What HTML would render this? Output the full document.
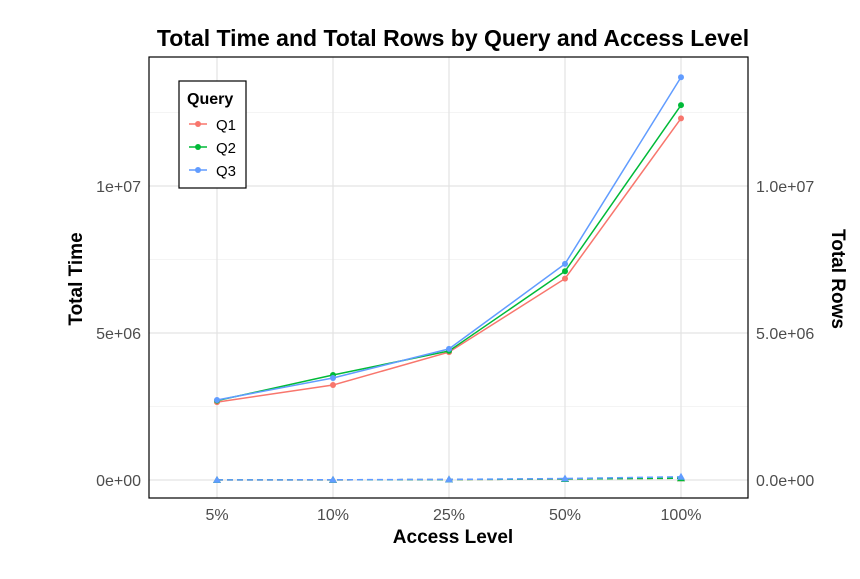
<!DOCTYPE html>
<html><head><meta charset="utf-8"><style>
body{margin:0;background:#fff;}
svg text{font-family:"Liberation Sans",Arial,sans-serif;}
</style></head><body>
<svg width="860" height="574" xmlns="http://www.w3.org/2000/svg" id="chart">
<text x="453" y="46" text-anchor="middle" font-size="23" font-weight="bold">Total Time and Total Rows by Query and Access Level</text>
<g id="grid"></g>
<g id="series"></g>
<rect x="149" y="57" width="599" height="441" fill="none" stroke="#000" stroke-width="1.2"/>
<g id="axes"></g>
<text x="453" y="543" text-anchor="middle" font-size="19" font-weight="bold">Access Level</text>
<text transform="translate(82,279) rotate(-90)" text-anchor="middle" font-size="19" font-weight="bold">Total Time</text>
<text transform="translate(832,279) rotate(90)" text-anchor="middle" font-size="19" font-weight="bold">Total Rows</text>
<g>
<rect x="179" y="81" width="67" height="107" fill="#fff" stroke="#000" stroke-width="1.2"/>
<text x="187" y="104" font-size="16" font-weight="bold">Query</text>
<g id="legend-items"></g>
</g>
</svg>
<script>
const categories=["5%","10%","25%","50%","100%"];
const seriesNames=["Q1","Q2","Q3"];
const colors=["#F8766D","#00BA38","#619CFF"];
const timeQ1=[2650000,3230000,4350000,6850000,12300000];
const timeQ2=[2700000,3570000,4390000,7100000,12750000];
const timeQ3=[2720000,3470000,4460000,7350000,13700000];
const rowsQ1=[2000,5000,15000,35000,60000];
const rowsQ2=[2000,5000,15000,35000,60000];
const rowsQ3=[3000,8000,20000,50000,110000];
const yTicks=[0,5000000,10000000];
const yTickLabels=["0e+00","5e+06","1e+07"];
const y2TickLabels=["0.0e+00","5.0e+06","1.0e+07"];
const yMinor=[2500000,7500000,12500000];
const NS="http://www.w3.org/2000/svg";
const X=i=>217+i*116;
const Y=v=>480-v/5000000*147;
function mk(tag,attrs,parent){const e=document.createElementNS(NS,tag);for(const k in attrs)e.setAttribute(k,attrs[k]);parent.appendChild(e);return e;}
const grid=document.getElementById('grid'),series=document.getElementById('series'),axes=document.getElementById('axes');
yMinor.forEach(v=>{const l=mk('line',{x1:149,x2:748,y1:Y(v),y2:Y(v),stroke:'#f0f0f0','stroke-width':0.8},grid);

});
yTicks.forEach((v,i)=>{const l=mk('line',{x1:149,x2:748,y1:Y(v),y2:Y(v),stroke:'#e3e3e3','stroke-width':1.2},grid);


const t=mk('text',{x:141,y:Y(v)+6,'text-anchor':'end','font-size':16,fill:'#4d4d4d'},axes);t.textContent=yTickLabels[i];


const t2=mk('text',{x:756,y:Y(v)+6,'font-size':16,fill:'#4d4d4d'},axes);t2.textContent=y2TickLabels[i];

});
categories.forEach((c,i)=>{const l=mk('line',{x1:X(i),x2:X(i),y1:57,y2:498,stroke:'#e3e3e3','stroke-width':1.2},grid);


const t=mk('text',{x:X(i),y:520,'text-anchor':'middle','font-size':16,fill:'#4d4d4d'},axes);t.textContent=c;

});
const times=[timeQ1,timeQ2,timeQ3],rows=[rowsQ1,rowsQ2,rowsQ3];
rows.forEach((arr,s)=>{const p=mk('polyline',{points:arr.map((v,i)=>X(i)+','+Y(v)).join(' '),fill:'none',stroke:colors[s],'stroke-width':1.5,'stroke-dasharray':'6 4'},series);


arr.forEach((v,i)=>{const x=X(i),y=Y(v);const m=mk('polygon',{points:`${x},${y-4} ${x-4},${y+3} ${x+4},${y+3}`,fill:colors[s]},series);

});});
times.forEach((arr,s)=>{const p=mk('polyline',{points:arr.map((v,i)=>X(i)+','+Y(v)).join(' '),fill:'none',stroke:colors[s],'stroke-width':1.5},series);


arr.forEach((v,i)=>{const m=mk('circle',{cx:X(i),cy:Y(v),r:3,fill:colors[s]},series);

});});
const li=document.getElementById('legend-items');
seriesNames.forEach((n,s)=>{const y=124+s*23;
const g=mk('g',{},li);


mk('line',{x1:189,x2:207,y1:y,y2:y,stroke:colors[s],'stroke-width':1.5},g);
mk('circle',{cx:198,cy:y,r:3,fill:colors[s]},g);
const t=mk('text',{x:216,y:y+6,'font-size':15},g);t.textContent=n;});
</script>
</body></html>
